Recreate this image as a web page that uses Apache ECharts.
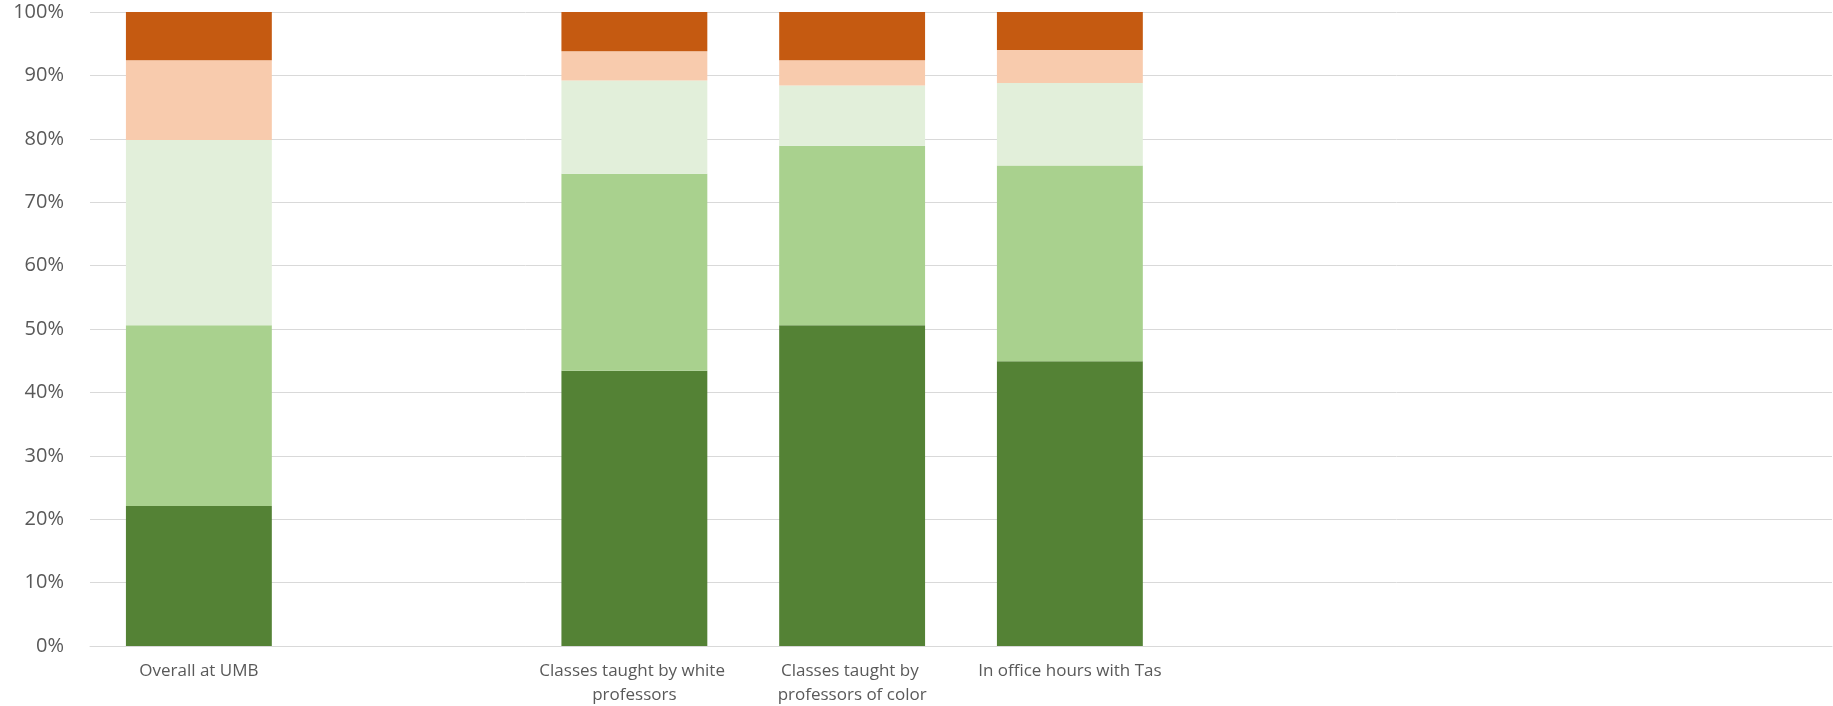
<!DOCTYPE html>
<html>
<head>
<meta charset="utf-8">
<script src="https://cdn.jsdelivr.net/npm/echarts@6/dist/echarts.min.js"></script>
<style>html,body{margin:0;padding:0;background:#fff;}#c{width:1833px;height:706px;}</style>
</head>
<body>
<div id="c"></div>
<script>
const categories = ["Overall at UMB", "", "Classes taught by white professors", "Classes taught by professors of color", "In office hours with Tas", "", "", ""];
const seriesNames = ["s1", "s2", "s3", "s4", "s5"];
const s1 = [22.1, null, 43.4, 50.6, 44.9, null, null, null];
const s2 = [28.5, null, 31.1, 28.3, 30.9, null, null, null];
const s3 = [29.2, null, 14.7, 9.5, 13.0, null, null, null];
const s4 = [12.6, null, 4.6, 4.0, 5.2, null, null, null];
const s5 = [7.6, null, 6.2, 7.6, 6.0, null, null, null];
const colors = ["#548235", "#A9D18E", "#E2EFDA", "#F8CBAD", "#C55A11"];
const yTicks = [0, 10, 20, 30, 40, 50, 60, 70, 80, 90, 100];

const values = [s1, s2, s3, s4, s5];
const chart = echarts.init(document.getElementById('c'));
chart.setOption({
  animation: false,
  grid: { left: 90, right: 1, top: 12, bottom: 60, containLabel: false, outerBoundsMode: 'none' },
  xAxis: {
    type: 'category',
    data: categories,
    axisLine: { show: true, lineStyle: { color: '#D9D9D9', width: 1 } },
    axisTick: { show: false },
    axisLabel: {
      interval: 0, color: '#595959', fontFamily: 'Open Sans', fontSize: 17,
      margin: 13, width: 200, overflow: 'break', lineHeight: 24
    }
  },
  yAxis: {
    type: 'value', min: 0, max: 100, interval: 10,
    axisLine: { show: false }, axisTick: { show: false },
    splitLine: { lineStyle: { color: '#D9D9D9', width: 1 } },
    axisLabel: { color: '#595959', fontFamily: 'Open Sans', fontSize: 20, margin: 26,
      formatter: v => yTicks.includes(v) ? v + '%' : '' }
  },
  series: values.map((d, i) => ({
    name: seriesNames[i], type: 'bar', stack: 'total', data: d,
    barCategoryGap: '33%',
    itemStyle: { color: colors[i] }
  }))
});
</script>
</body>
</html>
